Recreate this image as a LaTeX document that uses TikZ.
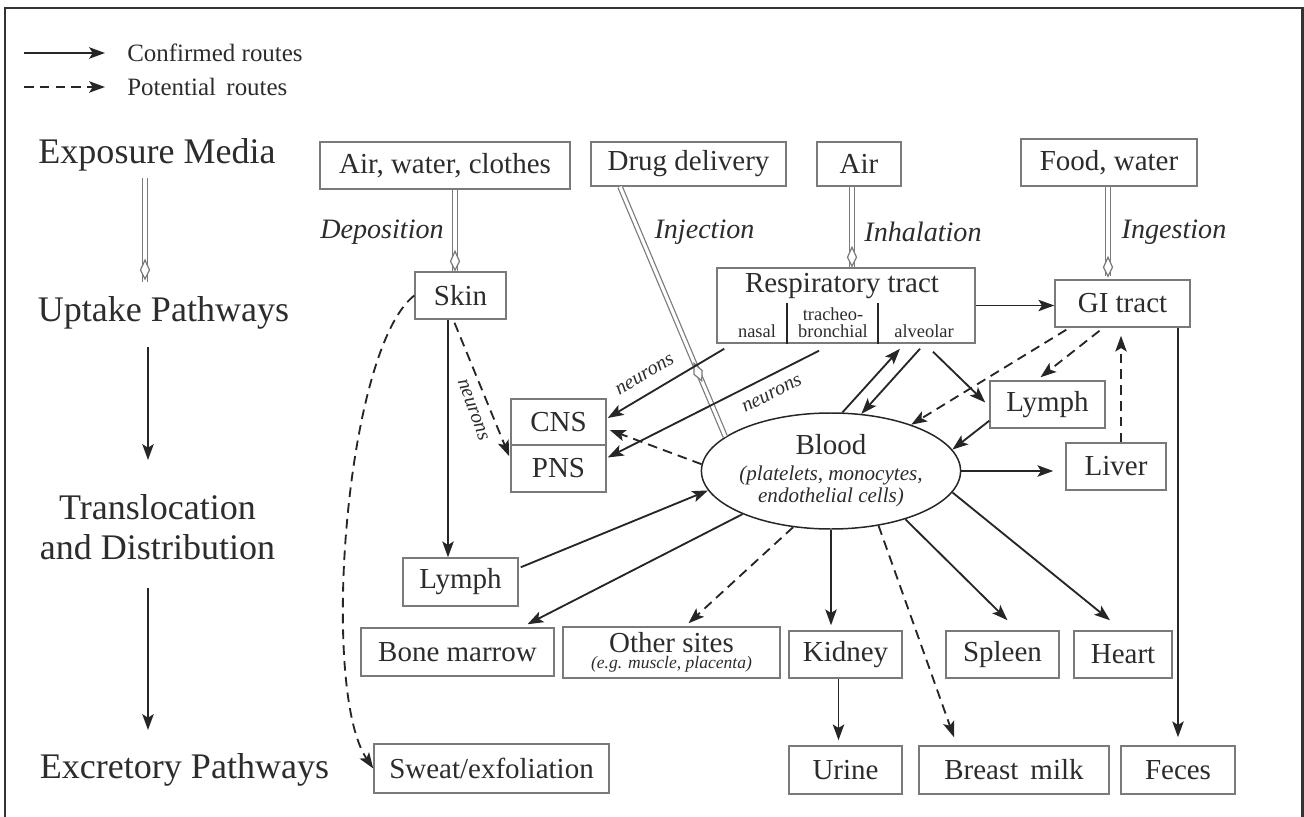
\documentclass[tikz,border=0pt]{standalone}
\usepackage{fontspec}
\setmainfont{Liberation Serif}
\usetikzlibrary{arrows.meta,calc,shapes.geometric}
\definecolor{boxgray}{HTML}{7A7A7A}
\definecolor{txt}{HTML}{2C2C2C}
\definecolor{arrcol}{HTML}{262626}
\definecolor{framecol}{HTML}{333333}
\newcommand\hollowtip[2]{\begin{scope}[shift={#1}, rotate=#2]\draw[tipk] (0,0) -- (-9,4.5) -- (-19,0) -- (-9,-4.5) -- cycle;\end{scope}}
\begin{document}
\begin{tikzpicture}[x=0.02cm,y=-0.02cm,
  sz/.style 2 args={minimum width=#1*0.02cm, minimum height=#2*0.02cm},
  box/.style={draw=boxgray, line width=0.85pt, inner sep=0pt, text=txt, font=\fontsize{16.5}{19}\selectfont},
  lab/.style={text=txt, inner sep=0pt, font=\fontsize{20.5}{23}\selectfont, align=center},
  ital/.style={text=txt, inner sep=0pt, font=\fontsize{16}{18}\selectfont\itshape},
  neur/.style={text=txt, inner sep=0pt, font=\fontsize{11.5}{13}\selectfont\itshape},
  smalltxt/.style={text=txt, inner sep=0pt, font=\fontsize{10.5}{9.6}\selectfont},
  arr/.style={draw=arrcol, line width=1.05pt, -{Stealth[length=9pt,width=6.5pt,inset=2pt]}},
  dsh/.style={arr, dash pattern=on 5.5pt off 3.5pt},
  dbl/.style={draw=boxgray, line width=0.7pt, double=white, double distance=1.8pt},
  tipk/.style={draw=boxgray, line width=0.7pt, fill=white, line join=miter}
]
\useasboundingbox (0,0) rectangle (1304,817);
\draw[framecol, line width=1.7pt] (5,817) -- (5,8) -- (1302,8) -- (1302,817);

% legend
\node[anchor=west, text=txt, inner sep=0pt, font=\fontsize{14.2}{16}\selectfont] (leg1) at (127,53) {Confirmed routes};
\node[anchor=west, text=txt, inner sep=0pt, font=\fontsize{14.2}{16}\selectfont] (leg2) at (127,87) {Potential\, routes};
\coordinate (l1) at (24,53);
\coordinate (l2) at (24,87);
\draw[arr] (l1) -- ($(leg1.west)+(-22,0)$);
\draw[dsh] (l2) -- ($(leg2.west)+(-22,0)$);

% left column
\node[lab] (expo) at (157,155) {Exposure Media};
\node[lab] (uptake) at (163.5,313) {Uptake Pathways};
\node[lab] (transl) at (157.5,527) {Translocation\\and Distribution};
\node[lab] (excr) at (184.5,770) {Excretory Pathways};
\draw[dbl] ($(expo.center)+(-12,23)$) -- ($(uptake.center)+(-18.5,-31)$);
\hollowtip{($(uptake.center)+(-18.5,-34)$)}{-90}
\draw[arr] ($(uptake.center)+(-15.5,34)$) -- ($(transl.center)+(-9.5,-67)$);
\draw[arr] ($(transl.center)+(-9.5,61)$) -- ($(excr.center)+(-36.5,-40)$);

% boxes
\node[box, sz={250}{47}] (airwc) at (445,165.5) {Air, water, clothes};
\node[box, sz={195}{44}] (drug) at (688.5,164) {Drug delivery};
\node[box, sz={84}{44}] (air) at (859,164) {Air};
\node[box, sz={176}{47}] (food) at (1109,162.5) {Food, water};
\node[box, sz={91}{47}] (skin) at (460.5,295.5) {Skin};
\node[box, sz={258}{75}] (resp) at (846,305.5) {};
\node[box, sz={135}{47}] (gi) at (1122.5,303.5) {GI tract};
\node[box, sz={95}{46}] (cns) at (558.5,422) {CNS};
\node[box, sz={95}{47}] (pns) at (558.5,468.5) {PNS};
\node[box, sz={115}{47}] (lymphR) at (1047.5,404.5) {Lymph};
\node[box, sz={100}{47}] (liver) at (1116,466.5) {Liver};
\node[box, sz={115}{48}] (lymphL) at (460.5,582) {Lymph};
\node[box, sz={193}{48}] (bone) at (457.5,652) {Bone marrow};
\node[box, sz={217}{51}, align=center, font=\fontsize{16.5}{9}\selectfont] (other) at (671.5,652.5) {Other sites\\{\fontsize{10}{11}\selectfont\itshape (e.g. muscle, placenta)}};
\node[box, sz={113}{47}] (kidney) at (845.5,654.5) {Kidney};
\node[box, sz={113}{47}] (spleen) at (1002.5,654.5) {Spleen};
\node[box, sz={98}{47}] (heart) at (1123,654.5) {Heart};
\node[box, sz={235}{49}] (sweat) at (491.5,768.5) {Sweat/exfoliation};
\node[box, sz={113}{48}] (urine) at (845.5,770) {Urine};
\node[box, sz={190}{48}] (breast) at (1014,770) {Breast\, milk};
\node[box, sz={114}{48}] (feces) at (1178,770) {Feces};

\node[ellipse, draw=arrcol, line width=0.85pt, sz={212}{116}, inner sep=0pt, text=txt, align=center, font=\fontsize{12}{13}\selectfont] (blood) at (831,471)
  {{\fontsize{16.5}{18}\selectfont Blood}\\[1.5pt]{\itshape (platelets, monocytes,}\\{\itshape endothelial cells)}};

% respiratory tract internals
\node[text=txt, inner sep=0pt, font=\fontsize{16.5}{19}\selectfont] (resptitle) at (842,286) {Respiratory tract};
\node[smalltxt] (nasal) at (757,331) {nasal};
\node[smalltxt, align=center] (trach) at (833,323) {tracheo-\\bronchial};
\node[smalltxt] (alv) at (924,331) {alveolar};
\draw[arrcol, line width=1pt] ($(resp.south west)+(71,0)$) -- ++(0,-41);
\draw[arrcol, line width=1pt] ($(resp.south west)+(162,0)$) -- ++(0,-41);

% italic route labels
\node[ital] (depo) at (382,232) {Deposition};
\node[ital] (inj) at (704.5,232) {Injection};
\node[ital] (inh) at (923,232) {Inhalation};
\node[ital] (ing) at (1174,232) {Ingestion};

% uptake (double) connectors
\draw[dbl] ($(airwc.south)+(10,0)$) -- ($(skin.north)+(-5.5,0)$);
\hollowtip{($(skin.north)+(-5.5,-1)$)}{-90}
\draw[dbl] ($(air.south)+(-7,0)$) -- ($(resp.north)+(6,0)$);
\hollowtip{($(resp.north)+(6,-1)$)}{-90}
\draw[dbl] ($(food.south)+(-1,0)$) -- ($(gi.north)+(-14.5,-3)$);
\hollowtip{($(gi.north)+(-14.5,-3)$)}{-90}
\coordinate (injS) at ($(drug.south)+(-68.5,0)$);
\coordinate (injE) at (blood.162);
\draw[dbl] (injS) -- (injE);
\hollowtip{($(injS)!0.776!(injE)$)}{-66}

% translocation connectors
\draw[arr] (resp.east) -- (resp.east -| gi.west);
\draw[arr] (gi.south -| feces.north) -- ($(feces.north)+(0,-8)$);
\draw[arr] ($(skin.south)+(-12.5,0)$) -- ($(lymphL.north)+(-12.5,0)$);
\draw[dsh] ($(skin.south)+(-6,3)$) -- ($(pns.north west)+(-1,12)$);
\draw[arr] ($(resp.south west)+(8,5)$) -- ($(cns.east)+(1,-4)$);
\draw[arr] ($(resp.south)+(-27,7)$) -- ($(pns.east)+(1,-11)$);
\draw[dsh] (blood.177) -- ($(cns.east)+(3,8)$);
\draw[arr] (blood.79) -- ($(resp.south)+(54,5)$);
\draw[arr] ($(resp.south)+(74,5)$) -- (blood.62);
\draw[arr] ($(resp.south)+(87,8)$) -- ($(lymphR.west)+(-4,-2)$);
\draw[dsh] ($(gi.south west)+(12,2)$) -- (blood.30);
\draw[dsh] ($(gi.south)+(-23,3)$) -- ($(lymphR.north)+(-7,-3)$);
\draw[arr] ($(lymphR.south west)+(0,-8)$) -- (blood.10);
\draw[dsh] ($(liver.north)+(5,0)$) -- ($(gi.south)+(-1.5,8)$);
\draw[arr] (blood.east) -- ($(blood.east -| liver.west)+(-12,0)$);
\draw[arr] ($(lymphL.north east)+(2,10)$) -- (blood.189);
\draw[arr] (blood.206) -- ($(bone.north)+(70,-3)$);
\draw[dsh] (blood.236) -- ($(other.north)+(17,-3)$);
\draw[arr] (blood.south) -- ($(blood.south |- kidney.north)+(0,-5)$);
\draw[arr] ($(kidney.south)+(-7,0)$) -- ($(urine.north)+(-7,-5)$);
\draw[dsh] (blood.311) -- ($(breast.north)+(-60,-8)$);
\draw[arr] (blood.327) -- ($(spleen.north)+(5,-10)$);
\draw[arr] (blood.350) -- ($(heart.north)+(-13,-10)$);
\draw[dsh] (skin.west) .. controls (345,350) and (320,690) .. (sweat.west);

% neurons labels
\node[neur, rotate=30] (n1) at (645,375) {neurons};
\node[neur, rotate=27] (n2) at (772,394) {neurons};
\node[neur, rotate=-70] (n3) at (473,410) {neurons};
\end{tikzpicture}
\end{document}
